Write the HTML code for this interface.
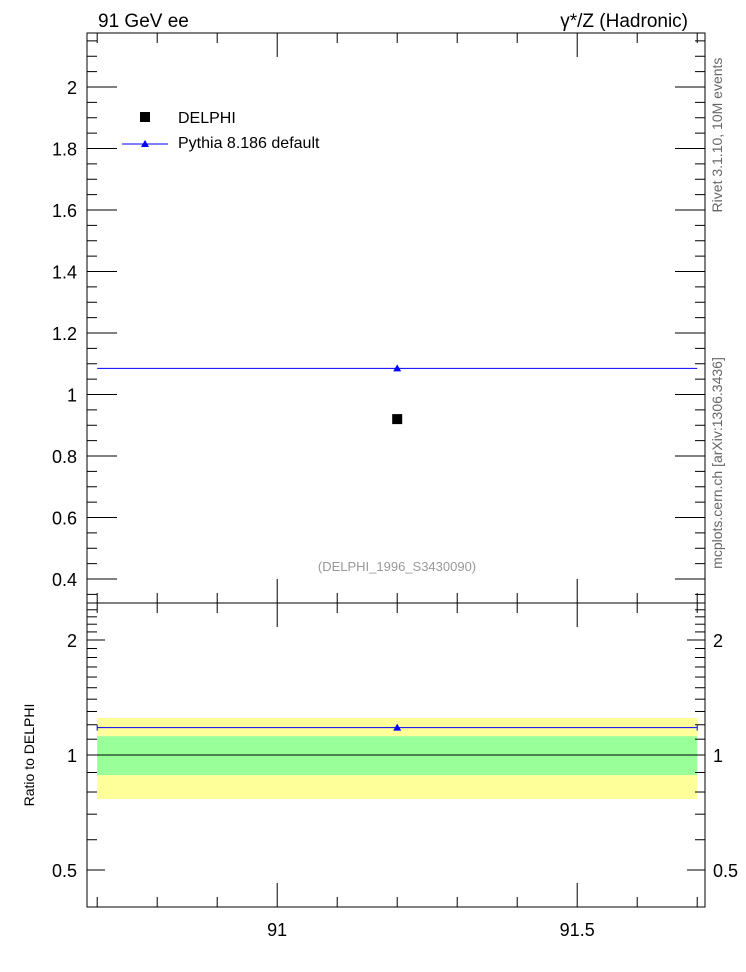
<!DOCTYPE html>
<html><head><meta charset="utf-8"><style>
body{margin:0;background:#fff;}
svg{display:block;font-family:"Liberation Sans",Arial,sans-serif;}
</style></head><body>
<svg id="c" width="746" height="972"></svg>
<script>
const refLabel=["DELPHI"];
const refX=[91.2];
const refY=[0.92];
const refErrStat=[0.12];
const refErrTot=[0.25];
const mcLabel=["Pythia 8.186 default"];
const mcX=[91.2];
const mcY=[1.085];
const binLo=[90.7], binHi=[91.7];
const mainTicks=[0.4,0.6,0.8,1,1.2,1.4,1.6,1.8,2];
const mainTickLabels=["0.4","0.6","0.8","1","1.2","1.4","1.6","1.8","2"];
const ratioTicks=[0.5,1,2];
const ratioTickLabels=["0.5","1","2"];
const xTicks=[91,91.5];
const xTickLabels=["91","91.5"];

const L=87,R=705,T=33,MB=603,RB=907;
const xmin=90.683,xmax=91.713;
const ymin=0.322,ymax=2.1756;
const rmin=0.4,rmax=2.5;
const sx=v=>L+(v-xmin)/(xmax-xmin)*(R-L);
const sy=v=>MB-(v-ymin)/(ymax-ymin)*(MB-T);
const sr=v=>RB-(Math.log(v)-Math.log(rmin))/(Math.log(rmax)-Math.log(rmin))*(RB-MB);
const NS="http://www.w3.org/2000/svg";
const svg=document.getElementById('c');
function el(tag,attrs,name,parent){const e=document.createElementNS(NS,tag);for(const k in attrs)e.setAttribute(k,attrs[k]);


(parent||svg).appendChild(e);return e;}
function txt(x,y,s,name,opts){const t=el('text',Object.assign({x:x,y:y,'font-size':18,fill:'#000'},opts||{}),name);t.textContent=s;return t;}
function line(x1,y1,x2,y2,name,stroke,w){return el('line',{x1,y1,x2,y2,stroke:stroke||'#000','stroke-width':w||1},name);}

// ratio bands
for(let i=0;i<refX.length;i++){
 const x1=sx(binLo[i]),x2=sx(binHi[i]);
 const rt=1+refErrTot[i]/refY[i]*0.92, rb=1-refErrTot[i]/refY[i]*0.92*0.93;
 el('rect',{x:x1,y:sr(1.25),width:x2-x1,height:sr(0.767)-sr(1.25),fill:'#ffff99'},'ratio-total-band');
 el('rect',{x:x1,y:sr(1.12),width:x2-x1,height:sr(0.886)-sr(1.12),fill:'#99ff99'},'ratio-stat-band');
}
line(L,sr(1),R,sr(1),'ratio-reference-line','#000',1);

// frames
el('rect',{x:L,y:T,width:R-L,height:MB-T,fill:'none',stroke:'#000','stroke-width':1},'main-frame');
el('rect',{x:L,y:MB,width:R-L,height:RB-MB,fill:'none',stroke:'#000','stroke-width':1},'ratio-frame');

// main y ticks
for(let v=0.35;v<=2.17;v+=0.05){const vv=Math.round(v*100)/100;const maj=Math.abs(vv*5-Math.round(vv*5))<1e-6;const len=maj?30:10;
 line(L,sy(vv),L+len,sy(vv),'y-tick');line(R,sy(vv),R-len,sy(vv),'y-tick');}
mainTicks.forEach((v,i)=>txt(L-10,sy(v)+7,mainTickLabels[i],'y-tick-label',{'text-anchor':'end'}));

// ratio y ticks (log)
const rminor=[0.4,0.5,0.6,0.7,0.8,0.9,1,1.5,2];
[0.4,0.5,0.6,0.7,0.8,0.9,1,1.1,1.2,1.3,1.4,1.5,1.6,1.7,1.8,1.9,2,2.1,2.2,2.3,2.4].forEach(v=>{const maj=ratioTicks.includes(v);const len=maj?18:10;
 line(L,sr(v),L+len,sr(v),'ratio-y-tick');line(R,sr(v),R-len,sr(v),'ratio-y-tick');});
ratioTicks.forEach((v,i)=>{txt(L-10,sr(v)+7,ratioTickLabels[i],'ratio-y-tick-label',{'text-anchor':'end'});
 txt(R+8,sr(v)+7,ratioTickLabels[i],'ratio-y-tick-label-right',{'text-anchor':'start'});});

// x ticks
for(let v=90.7;v<=91.71;v+=0.1){const vv=Math.round(v*10)/10;const maj=Math.abs(vv*2-Math.round(vv*2))<1e-6;const len=maj?24:10;
 line(sx(vv),T,sx(vv),T+len,'x-tick');line(sx(vv),MB,sx(vv),MB-len,'x-tick');
 line(sx(vv),MB,sx(vv),MB+len,'x-tick');line(sx(vv),RB,sx(vv),RB-len,'x-tick');}
xTicks.forEach((v,i)=>txt(sx(v),RB+29,xTickLabels[i],'x-tick-label',{'text-anchor':'middle'}));

// MC series main
for(let i=0;i<mcX.length;i++){
 line(sx(binLo[i]),sy(mcY[i]),sx(binHi[i]),sy(mcY[i]),'pythia-line','#0000ff',1);
 const x=sx(mcX[i]),y=sy(mcY[i]);
 el('polygon',{points:`${x-4},${y+3} ${x+4},${y+3} ${x},${y-4}`,fill:'#0000ff'},'pythia-marker');
 const r=mcY[i]/refY[i];
 line(sx(binLo[i]),sr(r),sx(binHi[i]),sr(r),'pythia-ratio-line','#0000ff',1);
 line(sx(binLo[i]),sr(r)-3,sx(binLo[i]),sr(r)+3,'pythia-ratio-cap','#0000ff',1);
 line(sx(binHi[i]),sr(r)-3,sx(binHi[i]),sr(r)+3,'pythia-ratio-cap','#0000ff',1);
 const yr=sr(r);
 el('polygon',{points:`${x-4},${yr+3} ${x+4},${yr+3} ${x},${yr-4}`,fill:'#0000ff'},'pythia-ratio-marker');
}
// data
for(let i=0;i<refX.length;i++){const x=sx(refX[i]),y=sy(refY[i]);
 el('rect',{x:x-5,y:y-5,width:10,height:10,fill:'#000'},'delphi-marker');}

// legend
el('rect',{x:140,y:112,width:10,height:10,fill:'#000'},'legend-delphi-marker');
txt(178,123,refLabel[0],'legend-delphi-label',{'font-size':16});
line(122,144,168,144,'legend-pythia-line','#0000ff',1);
el('polygon',{points:`141,147 149,147 145,140`,fill:'#0000ff'},'legend-pythia-marker');
txt(178,148,mcLabel[0],'legend-pythia-label',{'font-size':16});

// titles
txt(98,27,'91 GeV ee','title-left',{'font-size':19});
txt(688,27,'γ*/Z (Hadronic)','title-right',{'font-size':19,'text-anchor':'end'});
txt(397,571,'(DELPHI_1996_S3430090)','analysis-label',{'font-size':13,fill:'#999','text-anchor':'middle'});
txt(0,0,'Ratio to DELPHI','ratio-y-title',{'font-size':14,'text-anchor':'middle',transform:'translate(34,755) rotate(-90)'});
txt(0,0,'Rivet 3.1.10, 10M events','rivet-label',{'font-size':14,fill:'#666','text-anchor':'middle',transform:'translate(722,135) rotate(-90)'});
txt(0,0,'mcplots.cern.ch [arXiv:1306.3436]','mcplots-label',{'font-size':14,fill:'#666','text-anchor':'middle',transform:'translate(722,463) rotate(-90)'});
</script>
</body></html>
